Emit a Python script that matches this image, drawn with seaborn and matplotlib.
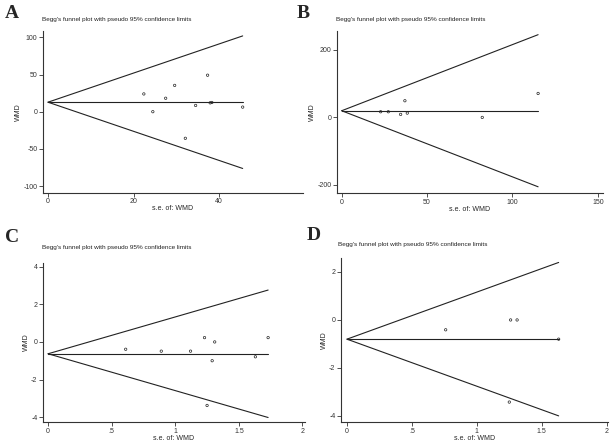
import numpy as np
import pandas as pd
import matplotlib
matplotlib.use("Agg")
import matplotlib.pyplot as plt
import seaborn as sns

# panel A
a_se = [22.4, 24.5, 27.5, 29.6, 32.1, 34.5, 37.3, 37.9, 38.3, 45.5]
a_wmd = [23.9, 0.0, 18.1, 35.4, -35.8, 8.4, 49.1, 11.9, 12.4, 6.2]
a_pooled = 12.8

# panel B
b_se = [22.8, 27.3, 34.5, 37.0, 38.4, 82.3, 115.0]
b_wmd = [16.8, 16.8, 8.9, 49.4, 12.8, 0.0, 71.0]
b_pooled = 19.8

# panel C
c_se = [0.61, 0.89, 1.12, 1.23, 1.25, 1.29, 1.31, 1.63, 1.73]
c_wmd = [-0.39, -0.49, -0.49, 0.23, -3.38, -1.0, 0.0, -0.79, 0.23]
c_pooled = -0.63

# panel D
d_se = [0.76, 1.25, 1.26, 1.31, 1.63]
d_wmd = [-0.41, -3.42, 0.0, 0.0, -0.80]
d_pooled = -0.80

a_xticks = [0, 20, 40]
a_yticks = [-100, -50, 0, 50, 100]
b_xticks = [0, 50, 100, 150]
b_yticks = [-200, 0, 200]
c_xticks = [0, 0.5, 1, 1.5, 2]
c_yticks = [-4, -2, 0, 2, 4]
d_xticks = [0, 0.5, 1, 1.5, 2]
d_yticks = [-4, -2, 0, 2]
half_labels = ["0", ".5", "1", "1.5", "2"]

title = "Begg's funnel plot with pseudo 95% confidence limits"

sns.set_style("ticks")
plt.rcParams["font.family"] = ["Liberation Sans", "DejaVu Sans"]
plt.rcParams["axes.unicode_minus"] = False

W, H = 615, 442
fig = plt.figure(figsize=(6.15, 4.42), dpi=100)


def px(x0, y0, x1, y1):
    return [x0 / W, 1 - y1 / H, (x1 - x0) / W, (y1 - y0) / H]


panels = [
    ("A", a_se, a_wmd, a_pooled, px(43, 30.7, 303, 192.7), (-1.17, 59.6), (-109, 109),
     a_xticks, None, a_yticks, (5, 14), (42, 20)),
    ("B", b_se, b_wmd, b_pooled, px(337, 30.7, 603, 193), (-2.75, 153), (-224, 257),
     b_xticks, None, b_yticks, (297, 14), (336, 20)),
    ("C", c_se, c_wmd, c_pooled, px(43, 263, 305, 422), (-0.04, 2.02), (-4.26, 4.2),
     c_xticks, half_labels, c_yticks, (5, 237), (42, 248)),
    ("D", d_se, d_wmd, d_pooled, px(341, 258, 608, 422), (-0.046, 2.01), (-4.25, 2.58),
     d_xticks, half_labels, d_yticks, (307, 236), (338, 244)),
]

for (letter, se, wmd, pooled, rect, xlim, ylim, xt, xtl, yt, lpos, tpos) in panels:
    ax = fig.add_axes(rect)
    se_max = max(se)
    funnel = pd.DataFrame({
        "se": [0, se_max],
        "mid": [pooled, pooled],
        "upper": [pooled, pooled + 1.96 * se_max],
        "lower": [pooled, pooled - 1.96 * se_max],
    })
    for col in ["mid", "upper", "lower"]:
        sns.lineplot(data=funnel, x="se", y=col, ax=ax, color="#222222", linewidth=0.8)
    df = pd.DataFrame({"se": se, "wmd": wmd})
    sns.scatterplot(data=df, x="se", y="wmd", ax=ax, marker="o", s=3,
                    facecolor="none", edgecolor="#222222", linewidth=0.5)
    ax.set_xlim(*xlim)
    ax.set_ylim(*ylim)
    ax.set_xticks(xt)
    if xtl is not None:
        ax.set_xticklabels(xtl)
    ax.set_yticks(yt)
    ax.set_xlabel("s.e. of: WMD", fontsize=5, labelpad=0)
    ax.set_ylabel("WMD", fontsize=5, labelpad=1)
    ax.tick_params(labelsize=5, length=3, width=0.6, pad=1, colors="#333333")
    for s in ["left", "bottom"]:
        ax.spines[s].set_linewidth(0.8)
        ax.spines[s].set_color("#333333")
    sns.despine(ax=ax)
    fig.text(lpos[0] / W, 1 - lpos[1] / H, letter, fontsize=14, fontweight="bold",
             family="Liberation Serif", va="center", ha="left")
    fig.text(tpos[0] / W, 1 - tpos[1] / H, title, fontsize=4.6, va="center", ha="left",
             color="#222222")

fig.savefig("out.png", dpi=100)
